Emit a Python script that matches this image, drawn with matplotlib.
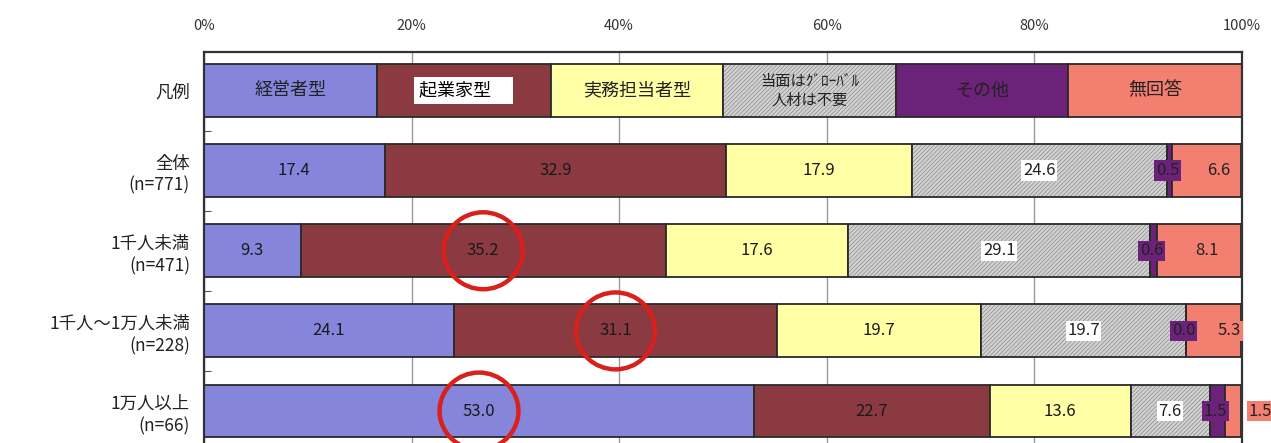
import matplotlib
matplotlib.use("Agg")
import matplotlib.pyplot as plt
from matplotlib.patches import Ellipse
import numpy as np

plt.rcParams['font.family'] = ['Noto Sans CJK JP', 'DejaVu Sans']
plt.rcParams['hatch.linewidth'] = 0.5

categories = ["経営者型", "起業家型", "実務担当者型", "当面はｸﾞﾛｰﾊﾞﾙ\n人材は不要", "その他", "無回答"]
row_labels = ["凡例", "全体\n(n=771)", "1千人未満\n(n=471)", "1千人～1万人未満\n(n=228)", "1万人以上\n(n=66)"]
legend_share = [16.7, 16.7, 16.6, 16.7, 16.6, 16.7]
total = [17.4, 32.9, 17.9, 24.6, 0.5, 6.6]
under_1k = [9.3, 35.2, 17.6, 29.1, 0.6, 8.1]
from_1k_to_10k = [24.1, 31.1, 19.7, 19.7, 0.0, 5.3]
over_10k = [53.0, 22.7, 13.6, 7.6, 1.5, 1.5]
value_labels = [
    ["17.4", "32.9", "17.9", "24.6", "0.5", "6.6"],
    ["9.3", "35.2", "17.6", "29.1", "0.6", "8.1"],
    ["24.1", "31.1", "19.7", "19.7", "0.0", "5.3"],
    ["53.0", "22.7", "13.6", "7.6", "1.5", "1.5"],
]
highlight = [(2, 1), (3, 1), (4, 0)]  # (chart row, segment) circled in red

colors = ["#8585dc", "#8a3a40", "#ffffa6", "#d2d2d2", "#6c2278", "#f27f70"]
hatches = [None, None, None, "////////", None, None]

fig = plt.figure(figsize=(12.71, 4.43), dpi=100)
ax = fig.add_axes([0.1605, -0.0147, 0.8165, 0.8973])

rows = [legend_share, total, under_1k, from_1k_to_10k, over_10k]
bar_h = 0.66
ax.set_xlim(0, 100)
ax.set_ylim(len(rows) - 0.52, -0.48)
ax.set_axisbelow(True)
ax.grid(axis='x', color='#9a9a9a', lw=1.0)

seg_info = {}
for r, vals in enumerate(rows):
    left = 0
    for j, v in enumerate(vals):
        if hatches[j]:
            ax.barh(r, v, left=left, height=bar_h, color=colors[j], edgecolor='#8c8c8c',
                    lw=0, hatch=hatches[j], zorder=2)
            ax.barh(r, v, left=left, height=bar_h, fill=False, edgecolor='#2a2a2a',
                    lw=1.3, zorder=2.1)
        else:
            ax.barh(r, v, left=left, height=bar_h, color=colors[j], edgecolor='#2a2a2a',
                    lw=1.3, zorder=2)
        seg_info[(r, j)] = (left, v)
        left += v

# legend row labels
for j, name in enumerate(categories):
    lft, w = seg_info[(0, j)]
    cx = lft + w / 2
    if j == 1:
        ax.text(cx, 0, "起業家型　", fontsize=13, color='black', ha='center', va='center', zorder=5,
                bbox=dict(boxstyle='square,pad=0.25', fc='white', ec='none'))
    elif j == 3:
        ax.text(cx, 0, name, fontsize=11, linespacing=1.1, ha='center', va='center',
                color='#222222', zorder=5)
    else:
        ax.text(cx, 0, name, fontsize=13, ha='center', va='center', color='#222222', zorder=5)

# value labels
for i in range(4):
    r = i + 1
    for j in range(6):
        lft, w = seg_info[(r, j)]
        cx = lft + w / 2
        s = value_labels[i][j]
        if j == 3:
            ax.text(cx, r, s, fontsize=12, ha='center', va='center', color='#222222', zorder=5,
                    bbox=dict(boxstyle='square,pad=0.1', fc='white', ec='none'))
        elif j == 4:
            ax.text(cx - 0.2, r, s, fontsize=12, ha='center', va='center', color='#222222', zorder=6,
                    bbox=dict(boxstyle='square,pad=0.1', fc=colors[4], ec='none'))
        elif j == 5:
            shift = max(0.6, 3.0 - 0.27 * w)
            ax.text(cx + shift, r, s, fontsize=12, ha='center', va='center', color='#222222', zorder=6,
                    clip_on=False,
                    bbox=dict(boxstyle='square,pad=0.1', fc=colors[5], ec='none'))
        else:
            ax.text(cx, r, s, fontsize=12, ha='center', va='center', color='#1a1a1a', zorder=5)

# red circles
for (r, j) in highlight:
    lft, w = seg_info[(r, j)]
    cx = lft + w / 2
    ax.add_patch(Ellipse((cx, r), width=7.6, height=0.96, fill=False, ec='#d8201c', lw=3.2, zorder=7,
                         clip_on=False))

ax.xaxis.tick_top()
ax.set_xticks(np.arange(0, 101, 20))
ax.set_xticklabels([f"{v}%" for v in range(0, 101, 20)], fontsize=10.5, color='#333333')
ax.tick_params(axis='x', length=0, pad=14)

ax.set_yticks(np.arange(0.5, len(rows) - 1, 1.0))
ax.set_yticklabels([])
ax.tick_params(axis='y', which='major', direction='in', length=5, color='#555555')
ax.set_yticks(np.arange(len(rows)), minor=True)
ax.set_yticklabels(row_labels, minor=True, fontsize=12.5, color='#222222', linespacing=1.3)
ax.tick_params(axis='y', which='minor', length=0, pad=10)
for lab in ax.get_yticklabels(minor=True):
    lab.set_ha('right')
    lab.set_multialignment('right')

for s in ax.spines.values():
    s.set_color('#333333')
    s.set_linewidth(1.6)

fig.savefig("out.png", dpi=100)
